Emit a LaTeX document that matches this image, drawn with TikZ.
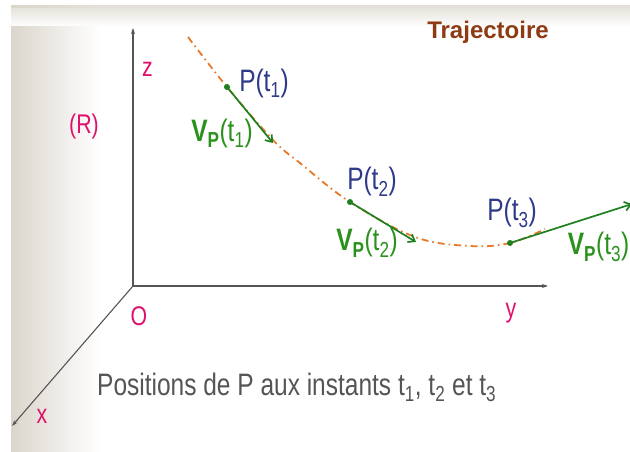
\documentclass[tikz,border=0pt]{standalone}
\usepackage{fontspec}
\setmainfont{Liberation Sans}
\newfontfamily\narrowfont[FakeStretch=0.79]{Liberation Sans}
\usetikzlibrary{arrows.meta}
\definecolor{axisgray}{HTML}{555555}
\definecolor{magentalbl}{HTML}{E0106E}
\definecolor{navylbl}{HTML}{2E3A8A}
\definecolor{vgreen}{HTML}{1F8020}
\definecolor{lblgreen}{HTML}{2A921C}
\definecolor{trajorange}{HTML}{E8782A}
\definecolor{trajbrown}{HTML}{8E3A12}
\definecolor{beige}{HTML}{DBD6CC}
\definecolor{textgray}{HTML}{555555}
\tikzset{
  axis/.style={draw=axisgray, line width=1.1pt, -{Stealth[length=6pt,width=4pt]}},
  traj/.style={draw=trajorange, line width=1.8pt, dash pattern=on 7pt off 4pt on 1.5pt off 4pt},
  vec/.style={draw=vgreen, line width=1.7pt, -{Straight Barb[length=6pt,width=9pt]}},
  pdot/.style={fill=vgreen},
  axlabel/.style={text=magentalbl, inner sep=0pt, font=\narrowfont\fontsize{27}{31}\selectfont},
  plabel/.style={text=navylbl, inner sep=0pt, font=\narrowfont\fontsize{31}{35}\selectfont},
  vlabel/.style={text=lblgreen, inner sep=0pt, font=\narrowfont\fontsize{31}{35}\selectfont},
  title/.style={text=trajbrown, inner sep=0pt, font=\bfseries\fontsize{24}{28}\selectfont},
  caption/.style={text=textgray, inner sep=0pt, font=\narrowfont\fontsize{31}{35}\selectfont}
}
\begin{document}
\begin{tikzpicture}[x=1pt,y=-1pt]
\useasboundingbox (0,0) rectangle (630,452);
\fill[white] (0,0) rectangle (630,452);
\shade[top color=beige!75, bottom color=white] (11,6) rectangle (630,27);
\shade[left color=beige, right color=white] (11,27) rectangle (100,452);
\shade[left color=beige, right color=beige!75] (11,6) rectangle (100,8);

% axes
\coordinate (O) at (133,286);
\coordinate (zend) at (133,28);
\coordinate (yend) at (548,286);
\coordinate (xend) at (12,426);
\draw[axis] (O) -- (zend);
\draw[axis] (O) -- (yend);
\draw[axis] (O) -- (xend);

% trajectory
\coordinate (P1) at (227,87);
\coordinate (P2) at (350,202);
\coordinate (P3) at (510,243);
\draw[traj] plot[smooth, tension=0.6] coordinates {(188,37) (P1) (273,140) (300,163) (P2) (415,237) (470,246) (P3) (545,229)};

% velocity vectors
\coordinate (V1) at (273,143);
\coordinate (V2) at (416,242);
\coordinate (V3) at (632,204);
\draw[vec] (P1) -- (V1);
\draw[vec] (P2) -- (V2);
\draw[vec] (P3) -- (V3);
\fill[pdot] (P1) circle (3pt);
\fill[pdot] (P2) circle (3pt);
\fill[pdot] (P3) circle (3pt);

% labels
\node[title] (ttl) at (488,32) {Trajectoire};
\node[axlabel] (lz) at (147.5,69.5) {z};
\node[axlabel] (lR) at (84,127) {(R)};
\node[axlabel] (lO) at (139,316) {O};
\node[axlabel] (ly) at (511,313) {y};
\node[axlabel] (lx) at (42,416) {x};
\node[plabel] (lP1) at (264,83) {P(t\textsubscript{1})};
\node[plabel] (lP2) at (372,182) {P(t\textsubscript{2})};
\node[plabel] (lP3) at (512,213) {P(t\textsubscript{3})};
\node[vlabel] (lV1) at (222,133) {{\bfseries V\textsubscript{P}}(t\textsubscript{1})};
\node[vlabel] (lV2) at (367,243) {{\bfseries V\textsubscript{P}}(t\textsubscript{2})};
\node[vlabel, anchor=east] (lV3) at (629.5,247) {{\bfseries V\textsubscript{P}}(t\textsubscript{3})};
\node[caption, anchor=base west] (cap) at (97,395) {Positions de P aux instants t\textsubscript{1}, t\textsubscript{2} et t\textsubscript{3}};
\end{tikzpicture}
\end{document}
